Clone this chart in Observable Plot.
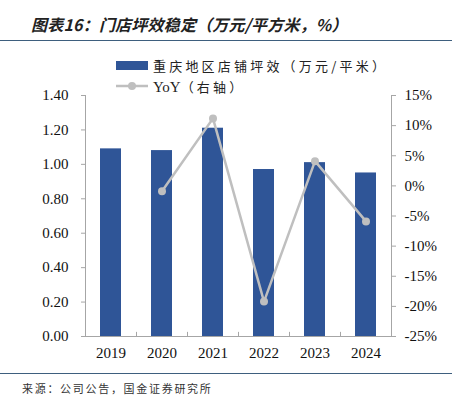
<!DOCTYPE html>
<html><head><meta charset="utf-8">
<script src="https://cdn.jsdelivr.net/npm/d3@7"></script>
<script src="https://cdn.jsdelivr.net/npm/@observablehq/plot@0.6"></script>
<style>
body{margin:0;background:#fff;}
#wrap{position:relative;width:459px;height:397px;overflow:hidden;background:#fff;}
.title{position:absolute;left:31px;top:12px;font-family:"Noto Sans CJK SC";font-weight:bold;font-style:italic;font-size:16px;color:#222;letter-spacing:0.2px;white-space:nowrap;}
.hr{position:absolute;left:0;width:452px;height:1.5px;background:#3E5F7E;}
.legend{position:absolute;left:116px;font-family:"Noto Sans CJK SC";font-size:13px;color:#222;letter-spacing:3.2px;white-space:nowrap;}
.legend .sw{position:absolute;left:0;}
.legend .lab{position:absolute;left:37px;top:0;}
.src{position:absolute;left:22px;top:380px;font-family:"Noto Sans CJK SC";font-size:11px;color:#333;letter-spacing:1.7px;white-space:nowrap;}
#chart{position:absolute;left:0;top:80px;}
</style></head>
<body><div id="wrap">
<div class="title">图表16：门店坪效稳定（万元/平方米，%）</div>
<div class="hr" style="top:39.5px"></div>
<div class="legend" style="top:56px"><div class="sw" style="top:5px;width:32px;height:9px;background:#2F5597"></div><div class="lab">重庆地区店铺坪效（万元/平米）</div></div>
<div class="legend" style="top:77px"><svg class="sw" width="34" height="18" style="top:0"><line x1="0" y1="9" x2="32" y2="9" stroke="#BFBFBF" stroke-width="2.5"/><circle cx="16" cy="9" r="4" fill="#BFBFBF"/></svg><div class="lab"><span style="font-family:'Liberation Serif';font-size:15px;letter-spacing:0">YoY</span>（右轴）</div></div>
<div id="chart"></div>
<div class="hr" style="top:372.5px"></div>
<div class="src">来源：公司公告，国金证券研究所</div>
</div>
<script>
const years = ["2019","2020","2021","2022","2023","2024"];
const efficiency = [1.09, 1.08, 1.21, 0.97, 1.01, 0.95];
const yoy = [null, -0.9, 11.2, -19.2, 4.1, -5.9];
const leftTicks = [0, 0.2, 0.4, 0.6, 0.8, 1.0, 1.2, 1.4];
const rightTicks = [-25, -20, -15, -10, -5, 0, 5, 10, 15];

const leftMax = 1.4, rMin = -25, rMax = 15;
const toLeft = v => (v - rMin) / (rMax - rMin) * leftMax;
const fromLeft = v => v / leftMax * (rMax - rMin) + rMin;

const bars = years.map((y, i) => ({year: y, value: efficiency[i]}));
const line = years.map((y, i) => ({year: y, yoy: yoy[i]})).filter(d => d.yoy != null);

const W = 459, H = 290, mL = 85, mR = 68, mT = 15, mB = 34;
const step = (W - mL - mR) / years.length;
const axisColor = "#A6A6A6";
const font = "Liberation Serif";

const plot = Plot.plot({
  width: W, height: H,
  marginLeft: mL, marginRight: mR, marginTop: mT, marginBottom: mB,
  style: {fontFamily: font, fontSize: "15px", color: "#111", background: "transparent"},
  x: {domain: years, paddingInner: 0.58, paddingOuter: 0.29},
  y: {domain: [0, leftMax]},
  marks: [
    Plot.barY(bars, {x: "year", y: "value", fill: "#2F5597"}),
    Plot.frame({anchor: "left", stroke: axisColor}),
    Plot.frame({anchor: "right", stroke: axisColor}),
    Plot.frame({anchor: "bottom", stroke: axisColor}),
    Plot.ruleX(years.slice(1), {x: d => d, dx: -step / 2, y1: 0, y2: 0.024, stroke: axisColor}),
    Plot.axisY(leftTicks, {anchor: "left", tickSize: 4, tickPadding: 13, stroke: axisColor, tickFormat: d => d.toFixed(2), label: null, fill: "#111"}),
    Plot.axisY(rightTicks.map(toLeft), {anchor: "right", tickSize: 4, tickPadding: 9, stroke: axisColor, tickFormat: d => Math.round(fromLeft(d)) + "%", label: null, fill: "#111"}),
    Plot.axisX({anchor: "bottom", tickSize: 0, tickPadding: 11, label: null, fill: "#111"}),
    Plot.line(line, {x: "year", y: d => toLeft(d.yoy), stroke: "#BFBFBF", strokeWidth: 2.5}),
    Plot.dot(line, {x: "year", y: d => toLeft(d.yoy), r: 4, fill: "#BFBFBF"})
  ]
});
document.getElementById("chart").appendChild(plot);
</script>
</body></html>
